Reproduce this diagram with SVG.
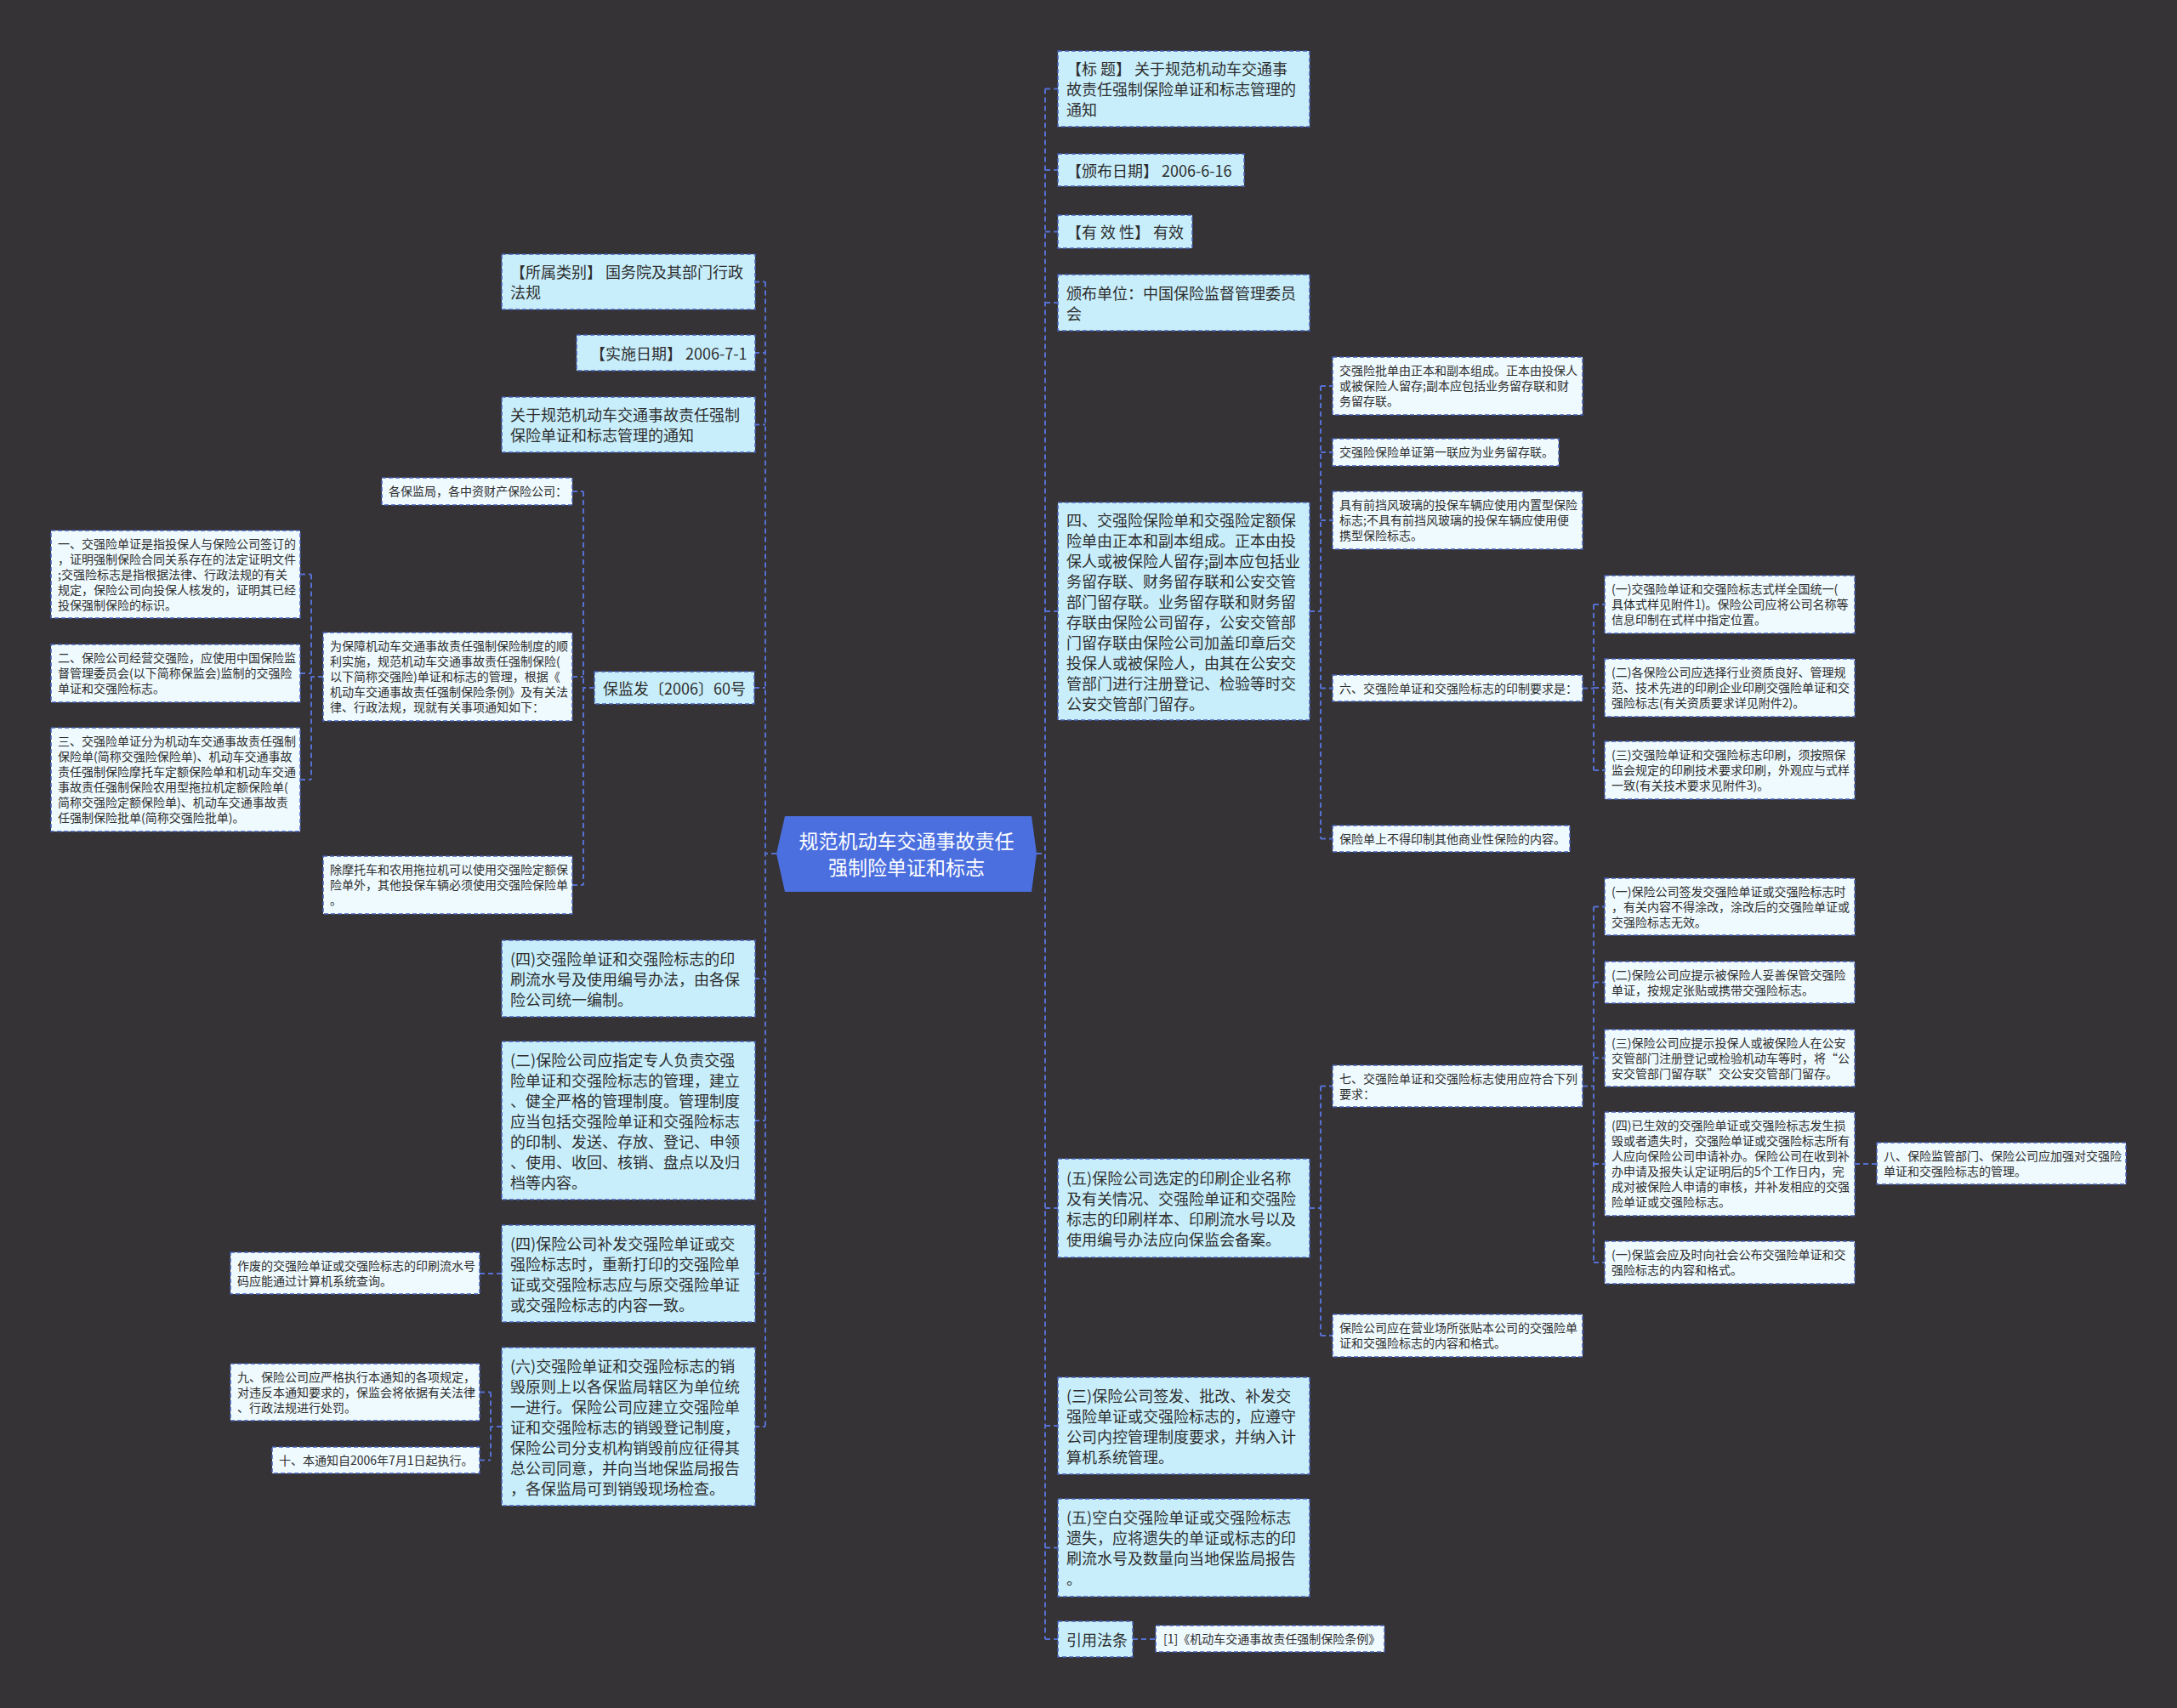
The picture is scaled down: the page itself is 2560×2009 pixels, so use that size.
<svg xmlns="http://www.w3.org/2000/svg" width="2560" height="2009" viewBox="0 0 2560 2009">
<style>
.bg{fill:#353335}
.n1{fill:#c8eefc;stroke:#4660b8;stroke-width:1.5;stroke-dasharray:5 3}
.n2{fill:#effaff;stroke:#4660b8;stroke-width:1.5;stroke-dasharray:5 3}
.hub{fill:#4b6fdf}
text{font-family:"Noto Sans CJK SC","Noto Sans",sans-serif;fill:#2e2e2e}
.t18{font-size:18px}
.t14{font-size:14px}
.t24{font-size:23px;fill:#ffffff;text-anchor:middle}
.c{fill:none;stroke:#5570d2;stroke-width:2;stroke-dasharray:6 4}
</style>
<rect class="bg" x="0" y="0" width="2560" height="2009"/>
<g id="connectors">
<path class="c" d="M1219,1004 H1229 M1229,104.5 V1928 M1229,104.5 H1244 M1229,200 H1244 M1229,272.5 H1244 M1229,356 H1244 M1229,719 H1244 M1229,1421 H1244 M1229,1677 H1244 M1229,1820.5 H1244 M1229,1928 H1244"/>
<path class="c" d="M1540,719 H1553 M1553,454 V986.5 M1553,454 H1567 M1553,532 H1567 M1553,612 H1567 M1553,809.5 H1567 M1553,986.5 H1567"/>
<path class="c" d="M1861,809.5 H1874 M1874,711 V906 M1874,711 H1887 M1874,809 H1887 M1874,906 H1887"/>
<path class="c" d="M1540,1421 H1553 M1553,1277.5 V1571 M1553,1277.5 H1567 M1553,1571 H1567"/>
<path class="c" d="M1861,1277.5 H1874 M1874,1066.5 V1485 M1874,1066.5 H1887 M1874,1155.5 H1887 M1874,1244.5 H1887 M1874,1369 H1887 M1874,1485 H1887"/>
<path class="c" d="M2181,1369 H2207"/>
<path class="c" d="M1332,1928 H1359"/>
<path class="c" d="M913,1004 H900 M900,331.5 V1678 M887,331.5 H900 M887,415 H900 M887,499.5 H900 M887,809 H900 M887,1151 H900 M887,1318 H900 M887,1498 H900 M887,1678 H900"/>
<path class="c" d="M699,809 H686 M686,578 V1041 M673,578 H686 M673,796 H686 M673,1041 H686"/>
<path class="c" d="M380,796 H366 M366,675.5 V917 M353,675.5 H366 M353,792 H366 M353,917 H366"/>
<path class="c" d="M590,1498 H564"/>
<path class="c" d="M590,1678 H577 M577,1637.5 V1717.5 M564,1637.5 H577 M564,1717.5 H577"/>
</g>
<g id="hub">
<polygon class="hub" points="913,1004 923,960 1213,960 1219,1004 1213,1049 923,1049"/>
<text class="t24"><tspan x="1066" y="998">规范机动车交通事故责任</tspan><tspan x="1066" y="1029">强制险单证和标志</tspan></text>
</g>
<g id="r1"><rect class="n1" x="1244" y="60" width="296" height="89"/><text class="t18"><tspan x="1254" y="88">【标 题】 关于规范机动车交通事</tspan><tspan x="1254" y="112">故责任强制保险单证和标志管理的</tspan><tspan x="1254" y="136">通知</tspan></text></g>
<g id="r2"><rect class="n1" x="1244" y="181" width="219" height="38"/><text class="t18"><tspan x="1254" y="207.5">【颁布日期】 2006-6-16</tspan></text></g>
<g id="r3"><rect class="n1" x="1244" y="253" width="158" height="39"/><text class="t18"><tspan x="1254" y="280">【有 效 性】 有效</tspan></text></g>
<g id="r4"><rect class="n1" x="1244" y="323" width="296" height="66"/><text class="t18"><tspan x="1254" y="351.5">颁布单位：中国保险监督管理委员</tspan><tspan x="1254" y="375.5">会</tspan></text></g>
<g id="r5"><rect class="n1" x="1244" y="591" width="296" height="256"/><text class="t18"><tspan x="1254" y="618.5">四、交强险保险单和交强险定额保</tspan><tspan x="1254" y="642.5">险单由正本和副本组成。正本由投</tspan><tspan x="1254" y="666.5">保人或被保险人留存;副本应包括业</tspan><tspan x="1254" y="690.5">务留存联、财务留存联和公安交管</tspan><tspan x="1254" y="714.5">部门留存联。业务留存联和财务留</tspan><tspan x="1254" y="738.5">存联由保险公司留存，公安交管部</tspan><tspan x="1254" y="762.5">门留存联由保险公司加盖印章后交</tspan><tspan x="1254" y="786.5">投保人或被保险人，由其在公安交</tspan><tspan x="1254" y="810.5">管部门进行注册登记、检验等时交</tspan><tspan x="1254" y="834.5">公安交管部门留存。</tspan></text></g>
<g id="r5a"><rect class="n2" x="1567" y="420" width="294" height="68"/><text class="t14"><tspan x="1575" y="441">交强险批单由正本和副本组成。正本由投保人</tspan><tspan x="1575" y="459">或被保险人留存;副本应包括业务留存联和财</tspan><tspan x="1575" y="477">务留存联。</tspan></text></g>
<g id="r5b"><rect class="n2" x="1567" y="516" width="266" height="32"/><text class="t14"><tspan x="1575" y="537">交强险保险单证第一联应为业务留存联。</tspan></text></g>
<g id="r5c"><rect class="n2" x="1567" y="578" width="294" height="68"/><text class="t14"><tspan x="1575" y="599">具有前挡风玻璃的投保车辆应使用内置型保险</tspan><tspan x="1575" y="617">标志;不具有前挡风玻璃的投保车辆应使用便</tspan><tspan x="1575" y="635">携型保险标志。</tspan></text></g>
<g id="r5d"><rect class="n2" x="1567" y="794" width="294" height="31"/><text class="t14"><tspan x="1575" y="814.5">六、交强险单证和交强险标志的印制要求是：</tspan></text></g>
<g id="r5d1"><rect class="n2" x="1887" y="677" width="294" height="68"/><text class="t14"><tspan x="1895" y="698">(一)交强险单证和交强险标志式样全国统一(</tspan><tspan x="1895" y="716">具体式样见附件1)。保险公司应将公司名称等</tspan><tspan x="1895" y="734">信息印制在式样中指定位置。</tspan></text></g>
<g id="r5d2"><rect class="n2" x="1887" y="775" width="294" height="68"/><text class="t14"><tspan x="1895" y="796">(二)各保险公司应选择行业资质良好、管理规</tspan><tspan x="1895" y="814">范、技术先进的印刷企业印刷交强险单证和交</tspan><tspan x="1895" y="832">强险标志(有关资质要求详见附件2)。</tspan></text></g>
<g id="r5d3"><rect class="n2" x="1887" y="872" width="294" height="68"/><text class="t14"><tspan x="1895" y="893">(三)交强险单证和交强险标志印刷，须按照保</tspan><tspan x="1895" y="911">监会规定的印刷技术要求印刷，外观应与式样</tspan><tspan x="1895" y="929">一致(有关技术要求见附件3)。</tspan></text></g>
<g id="r5e"><rect class="n2" x="1567" y="971" width="279" height="31"/><text class="t14"><tspan x="1575" y="991.5">保险单上不得印制其他商业性保险的内容。</tspan></text></g>
<g id="r6"><rect class="n1" x="1244" y="1363" width="296" height="116"/><text class="t18"><tspan x="1254" y="1392.5">(五)保险公司选定的印刷企业名称</tspan><tspan x="1254" y="1416.5">及有关情况、交强险单证和交强险</tspan><tspan x="1254" y="1440.5">标志的印刷样本、印刷流水号以及</tspan><tspan x="1254" y="1464.5">使用编号办法应向保监会备案。</tspan></text></g>
<g id="r6a"><rect class="n2" x="1567" y="1253" width="294" height="49"/><text class="t14"><tspan x="1575" y="1273.5">七、交强险单证和交强险标志使用应符合下列</tspan><tspan x="1575" y="1291.5">要求：</tspan></text></g>
<g id="r6a1"><rect class="n2" x="1887" y="1033" width="294" height="67"/><text class="t14"><tspan x="1895" y="1053.5">(一)保险公司签发交强险单证或交强险标志时</tspan><tspan x="1895" y="1071.5">，有关内容不得涂改，涂改后的交强险单证或</tspan><tspan x="1895" y="1089.5">交强险标志无效。</tspan></text></g>
<g id="r6a2"><rect class="n2" x="1887" y="1131" width="294" height="49"/><text class="t14"><tspan x="1895" y="1151.5">(二)保险公司应提示被保险人妥善保管交强险</tspan><tspan x="1895" y="1169.5">单证，按规定张贴或携带交强险标志。</tspan></text></g>
<g id="r6a3"><rect class="n2" x="1887" y="1211" width="294" height="67"/><text class="t14"><tspan x="1895" y="1231.5">(三)保险公司应提示投保人或被保险人在公安</tspan><tspan x="1895" y="1249.5">交管部门注册登记或检验机动车等时，将“公</tspan><tspan x="1895" y="1267.5">安交管部门留存联”交公安交管部门留存。</tspan></text></g>
<g id="r6a4"><rect class="n2" x="1887" y="1308" width="294" height="122"/><text class="t14"><tspan x="1895" y="1329">(四)已生效的交强险单证或交强险标志发生损</tspan><tspan x="1895" y="1347">毁或者遗失时，交强险单证或交强险标志所有</tspan><tspan x="1895" y="1365">人应向保险公司申请补办。保险公司在收到补</tspan><tspan x="1895" y="1383">办申请及报失认定证明后的5个工作日内，完</tspan><tspan x="1895" y="1401">成对被保险人申请的审核，并补发相应的交强</tspan><tspan x="1895" y="1419">险单证或交强险标志。</tspan></text></g>
<g id="r6a4a"><rect class="n2" x="2207" y="1344" width="293" height="49"/><text class="t14"><tspan x="2215" y="1364.5">八、保险监管部门、保险公司应加强对交强险</tspan><tspan x="2215" y="1382.5">单证和交强险标志的管理。</tspan></text></g>
<g id="r6a5"><rect class="n2" x="1887" y="1460" width="294" height="50"/><text class="t14"><tspan x="1895" y="1481">(一)保监会应及时向社会公布交强险单证和交</tspan><tspan x="1895" y="1499">强险标志的内容和格式。</tspan></text></g>
<g id="r6b"><rect class="n2" x="1567" y="1546" width="294" height="50"/><text class="t14"><tspan x="1575" y="1567">保险公司应在营业场所张贴本公司的交强险单</tspan><tspan x="1575" y="1585">证和交强险标志的内容和格式。</tspan></text></g>
<g id="r7"><rect class="n1" x="1244" y="1620" width="296" height="114"/><text class="t18"><tspan x="1254" y="1648.5">(三)保险公司签发、批改、补发交</tspan><tspan x="1254" y="1672.5">强险单证或交强险标志的，应遵守</tspan><tspan x="1254" y="1696.5">公司内控管理制度要求，并纳入计</tspan><tspan x="1254" y="1720.5">算机系统管理。</tspan></text></g>
<g id="r8"><rect class="n1" x="1244" y="1763" width="296" height="115"/><text class="t18"><tspan x="1254" y="1792">(五)空白交强险单证或交强险标志</tspan><tspan x="1254" y="1816">遗失，应将遗失的单证或标志的印</tspan><tspan x="1254" y="1840">刷流水号及数量向当地保监局报告</tspan><tspan x="1254" y="1864">。</tspan></text></g>
<g id="r9"><rect class="n1" x="1244" y="1907" width="88" height="42"/><text class="t18"><tspan x="1254" y="1935.5">引用法条</tspan></text></g>
<g id="r9a"><rect class="n2" x="1359" y="1912" width="269" height="31"/><text class="t14"><tspan x="1368" y="1932.5">[1]《机动车交通事故责任强制保险条例》</tspan></text></g>
<g id="l1"><rect class="n1" x="590" y="299" width="298" height="65"/><text class="t18"><tspan x="600" y="327">【所属类别】 国务院及其部门行政</tspan><tspan x="600" y="351">法规</tspan></text></g>
<g id="l2"><rect class="n1" x="678" y="394" width="210" height="42"/><text class="t18"><tspan x="694" y="422.5">【实施日期】 2006-7-1</tspan></text></g>
<g id="l3"><rect class="n1" x="590" y="467" width="298" height="65"/><text class="t18"><tspan x="600" y="495">关于规范机动车交通事故责任强制</tspan><tspan x="600" y="519">保险单证和标志管理的通知</tspan></text></g>
<g id="l4"><rect class="n1" x="699" y="790" width="188" height="38"/><text class="t18"><tspan x="709" y="816.5">保监发〔2006〕60号</tspan></text></g>
<g id="l4a"><rect class="n2" x="449" y="562" width="224" height="32"/><text class="t14"><tspan x="457" y="583">各保监局，各中资财产保险公司：</tspan></text></g>
<g id="l4b"><rect class="n2" x="380" y="744" width="293" height="104"/><text class="t14"><tspan x="388" y="765">为保障机动车交通事故责任强制保险制度的顺</tspan><tspan x="388" y="783">利实施，规范机动车交通事故责任强制保险(</tspan><tspan x="388" y="801">以下简称交强险)单证和标志的管理，根据《</tspan><tspan x="388" y="819">机动车交通事故责任强制保险条例》及有关法</tspan><tspan x="388" y="837">律、行政法规，现就有关事项通知如下：</tspan></text></g>
<g id="l4b1"><rect class="n2" x="60" y="624" width="293" height="103"/><text class="t14"><tspan x="68" y="644.5">一、交强险单证是指投保人与保险公司签订的</tspan><tspan x="68" y="662.5">，证明强制保险合同关系存在的法定证明文件</tspan><tspan x="68" y="680.5">;交强险标志是指根据法律、行政法规的有关</tspan><tspan x="68" y="698.5">规定，保险公司向投保人核发的，证明其已经</tspan><tspan x="68" y="716.5">投保强制保险的标识。</tspan></text></g>
<g id="l4b2"><rect class="n2" x="60" y="758" width="293" height="68"/><text class="t14"><tspan x="68" y="779">二、保险公司经营交强险，应使用中国保险监</tspan><tspan x="68" y="797">督管理委员会(以下简称保监会)监制的交强险</tspan><tspan x="68" y="815">单证和交强险标志。</tspan></text></g>
<g id="l4b3"><rect class="n2" x="60" y="856" width="293" height="122"/><text class="t14"><tspan x="68" y="877">三、交强险单证分为机动车交通事故责任强制</tspan><tspan x="68" y="895">保险单(简称交强险保险单)、机动车交通事故</tspan><tspan x="68" y="913">责任强制保险摩托车定额保险单和机动车交通</tspan><tspan x="68" y="931">事故责任强制保险农用型拖拉机定额保险单(</tspan><tspan x="68" y="949">简称交强险定额保险单)、机动车交通事故责</tspan><tspan x="68" y="967">任强制保险批单(简称交强险批单)。</tspan></text></g>
<g id="l4c"><rect class="n2" x="380" y="1007" width="293" height="68"/><text class="t14"><tspan x="388" y="1028">除摩托车和农用拖拉机可以使用交强险定额保</tspan><tspan x="388" y="1046">险单外，其他投保车辆必须使用交强险保险单</tspan><tspan x="388" y="1064">。</tspan></text></g>
<g id="l5"><rect class="n1" x="590" y="1106" width="298" height="90"/><text class="t18"><tspan x="600" y="1134.5">(四)交强险单证和交强险标志的印</tspan><tspan x="600" y="1158.5">刷流水号及使用编号办法，由各保</tspan><tspan x="600" y="1182.5">险公司统一编制。</tspan></text></g>
<g id="l6"><rect class="n1" x="590" y="1225" width="298" height="186"/><text class="t18"><tspan x="600" y="1253.5">(二)保险公司应指定专人负责交强</tspan><tspan x="600" y="1277.5">险单证和交强险标志的管理，建立</tspan><tspan x="600" y="1301.5">、健全严格的管理制度。管理制度</tspan><tspan x="600" y="1325.5">应当包括交强险单证和交强险标志</tspan><tspan x="600" y="1349.5">的印制、发送、存放、登记、申领</tspan><tspan x="600" y="1373.5">、使用、收回、核销、盘点以及归</tspan><tspan x="600" y="1397.5">档等内容。</tspan></text></g>
<g id="l7"><rect class="n1" x="590" y="1441" width="298" height="114"/><text class="t18"><tspan x="600" y="1469.5">(四)保险公司补发交强险单证或交</tspan><tspan x="600" y="1493.5">强险标志时，重新打印的交强险单</tspan><tspan x="600" y="1517.5">证或交强险标志应与原交强险单证</tspan><tspan x="600" y="1541.5">或交强险标志的内容一致。</tspan></text></g>
<g id="l7a"><rect class="n2" x="271" y="1473" width="293" height="49"/><text class="t14"><tspan x="279" y="1493.5">作废的交强险单证或交强险标志的印刷流水号</tspan><tspan x="279" y="1511.5">码应能通过计算机系统查询。</tspan></text></g>
<g id="l8"><rect class="n1" x="590" y="1585" width="298" height="186"/><text class="t18"><tspan x="600" y="1613.5">(六)交强险单证和交强险标志的销</tspan><tspan x="600" y="1637.5">毁原则上以各保监局辖区为单位统</tspan><tspan x="600" y="1661.5">一进行。保险公司应建立交强险单</tspan><tspan x="600" y="1685.5">证和交强险标志的销毁登记制度，</tspan><tspan x="600" y="1709.5">保险公司分支机构销毁前应征得其</tspan><tspan x="600" y="1733.5">总公司同意，并向当地保监局报告</tspan><tspan x="600" y="1757.5">，各保监局可到销毁现场检查。</tspan></text></g>
<g id="l8a"><rect class="n2" x="271" y="1604" width="293" height="67"/><text class="t14"><tspan x="279" y="1624.5">九、保险公司应严格执行本通知的各项规定，</tspan><tspan x="279" y="1642.5">对违反本通知要求的，保监会将依据有关法律</tspan><tspan x="279" y="1660.5">、行政法规进行处罚。</tspan></text></g>
<g id="l8b"><rect class="n2" x="320" y="1702" width="244" height="31"/><text class="t14"><tspan x="328" y="1722.5">十、本通知自2006年7月1日起执行。</tspan></text></g>
</svg>
